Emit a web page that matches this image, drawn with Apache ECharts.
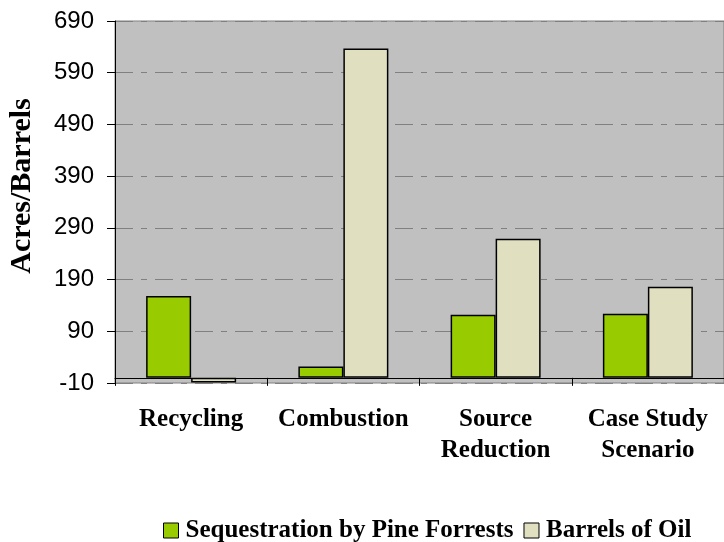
<!DOCTYPE html>
<html>
<head>
<meta charset="utf-8">
<script src="https://cdn.jsdelivr.net/npm/echarts@6/dist/echarts.min.js"></script>
<style>
html,body{margin:0;padding:0;background:#fff;}
#c{width:724px;height:542px;}
</style>
</head>
<body>
<div id="c"></div>
<script>
const categories = ['Recycling', 'Combustion', 'Source\nReduction', 'Case Study\nScenario'];
const seriesNames = ['Sequestration by Pine Forrests', 'Barrels of Oil'];
const sequestration = [158, 22, 122, 124];
const barrelsOfOil = [-9, 637, 269, 176];
const yMin = -10, yMax = 690, yStep = 100;
const yAxisTitle = 'Acres/Barrels';

const chart = echarts.init(document.getElementById('c'), null, {renderer: 'canvas'});
const serifBold = {fontFamily: '"Liberation Serif", "Times New Roman", serif', fontWeight: 'bold', color: '#000'};
chart.setOption({
  animation: false,
  backgroundColor: '#ffffff',
  grid: {
    left: 115, top: 21, right: -10, bottom: 159,
    show: true, backgroundColor: '#c0c0c0', borderColor: '#808080', borderWidth: 1
  },
  legend: {
    left: 158, top: 513,
    itemWidth: 15, itemHeight: 15, itemGap: 10,
    icon: 'rect',
    itemStyle: {borderColor: '#000', borderWidth: 1},
    textStyle: Object.assign({fontSize: 25, padding: [0, 0, 0, 2]}, serifBold),
    data: seriesNames
  },
  graphic: [{
    type: 'text', x: 22, y: 186, rotation: Math.PI / 2,
    style: {
      text: yAxisTitle, align: 'center', verticalAlign: 'middle',
      font: 'bold 30px "Liberation Serif", "Times New Roman", serif', fill: '#000'
    }
  }],
  xAxis: {
    type: 'category',
    data: categories,
    boundaryGap: true,
    axisLine: {onZero: true, lineStyle: {color: '#000', width: 1}},
    axisTick: {show: true, length: 8, lineStyle: {color: '#000'}},
    axisLabel: Object.assign({fontSize: 25, lineHeight: 31, margin: 21, interval: 0}, serifBold),
    splitLine: {show: false}
  },
  yAxis: {
    type: 'value',
    position: 'left',
    min: yMin, max: yMax, interval: yStep,
    axisLine: {show: true, onZero: false, lineStyle: {color: '#000', width: 1}},
    axisTick: {show: true, length: 8, lineStyle: {color: '#000', width: 1}},
    axisLabel: {fontSize: 24, fontFamily: '"Liberation Sans", Arial, sans-serif', color: '#000', margin: 21},
    splitLine: {show: true, lineStyle: {color: '#808080', width: 1, type: [18, 8, 6, 8]}}
  },
  series: [
    {
      name: seriesNames[0], type: 'bar', data: sequestration,
      barWidth: 45, barGap: '0%',
      itemStyle: {color: '#99cc00', borderColor: '#000', borderWidth: 1.5}
    },
    {
      name: seriesNames[1], type: 'bar', data: barrelsOfOil,
      barWidth: 45, barGap: '0%',
      itemStyle: {color: '#e0e0c0', borderColor: '#000', borderWidth: 1.5}
    }
  ]
});
</script>
</body>
</html>
